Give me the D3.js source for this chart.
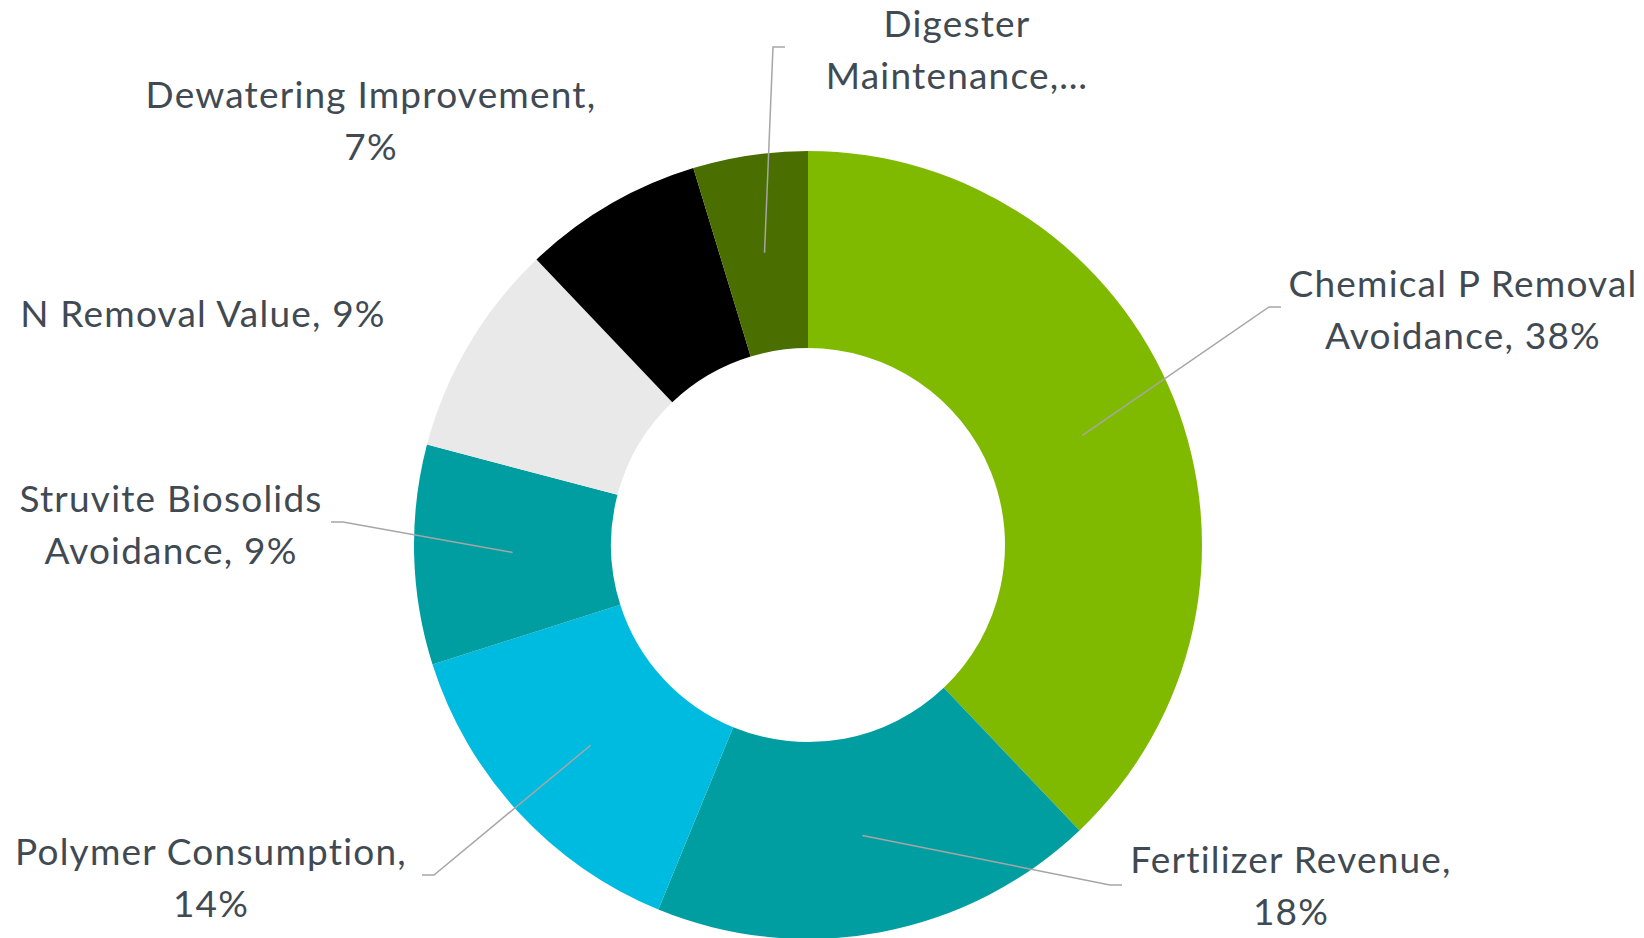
<!DOCTYPE html>
<html>
<head>
<meta charset="utf-8">
<script src="https://cdn.jsdelivr.net/npm/d3@7"></script>
<style>
  html, body { margin: 0; padding: 0; background: #fff; }
  svg { display: block; }
</style>
</head>
<body>
<svg id="chart" width="1644" height="938"></svg>
<script>
// ---------- data ---------- //
var categories = [
    "Chemical P Removal Avoidance",
    "Fertilizer Revenue",
    "Polymer Consumption",
    "Struvite Biosolids Avoidance",
    "N Removal Value",
    "Dewatering Improvement",
    "Digester Maintenance"
];
var shares = [37.9, 18.3, 13.9, 9.0, 8.8, 7.4, 4.7];
var colors = ["#80ba00", "#009ea0", "#00bbe0", "#009ea0", "#e9e9e9", "#000000", "#4a6f00"];

// label text lines as shown on the chart
var labelLines = [
    ["Chemical P Removal", "Avoidance, 38%"],
    ["Fertilizer Revenue,", "18%"],
    ["Polymer Consumption,", "14%"],
    ["Struvite Biosolids", "Avoidance, 9%"],
    ["N Removal Value, 9%"],
    ["Dewatering Improvement,", "7%"],
    ["Digester", "Maintenance,\u2026"]
];

// ---------- layout ---------- //
var cx = 808, cy = 545, outerR = 394, innerR = 197;
var lineH = 51.5;
// label anchor (centre x, first baseline) and leader elbow / end
var labelPos = [
    {x: 1463, y: 297, elbow: [1269, 307], end: [1281, 307]},
    {x: 1291, y: 873, elbow: [1110, 885], end: [1122, 885]},
    {x: 211, y: 865, elbow: [434, 875], end: [422, 875]},
    {x: 171, y: 512, elbow: [343, 522], end: [331, 522]},
    {x: 203, y: 327},
    {x: 371, y: 108},
    {x: 957, y: 37, elbow: [773, 47], end: [785, 47]}
];

var svg = d3.select("#chart");

var pie = d3.pie().sort(null).value(function(d){ return d; });
var arc = d3.arc().innerRadius(innerR).outerRadius(outerR);

var slices = pie(shares);

var g = svg.append("g").attr("transform", "translate(" + cx + "," + cy + ")");

g.selectAll("path.slice")
    .data(slices)
    .enter().append("path")
    .attr("class", "slice")
    .attr("d", arc)
    .attr("fill", function(d, i){ return colors[i]; });

// leader lines: from ring centroid to elbow, then short horizontal tick
svg.selectAll("path.leader")
    .data(slices.filter(function(d, i){ return labelPos[i].elbow; }))
    .enter().append("path")
    .attr("class", "leader")
    .attr("fill", "none")
    .attr("stroke", "#a6a6a6")
    .attr("stroke-width", 1.5)
    .attr("d", function(d){
        var c = arc.centroid(d);
        var p = labelPos[d.index];
        return "M" + (cx + c[0]) + "," + (cy + c[1]) +
               "L" + p.elbow[0] + "," + p.elbow[1] +
               "L" + p.end[0] + "," + p.end[1];
    });

var labels = svg.selectAll("text.label")
    .data(labelLines)
    .enter().append("text")
    .attr("class", "label")
    .attr("text-anchor", "middle")
    .attr("font-family", "Lato, 'Open Sans', sans-serif")
    .attr("font-size", 37)
    .attr("letter-spacing", 1.2)
    .attr("fill", "#414a52")
    .attr("x", function(d, i){ return labelPos[i].x; })
    .attr("y", function(d, i){ return labelPos[i].y; });

labels.selectAll("tspan")
    .data(function(d, i){ return d.map(function(t){ return {t: t, i: i}; }); })
    .enter().append("tspan")
    .attr("x", function(d){ return labelPos[d.i].x; })
    .attr("dy", function(d, j){ return j === 0 ? 0 : lineH; })
    .text(function(d){ return d.t; });
</script>
</body>
</html>
